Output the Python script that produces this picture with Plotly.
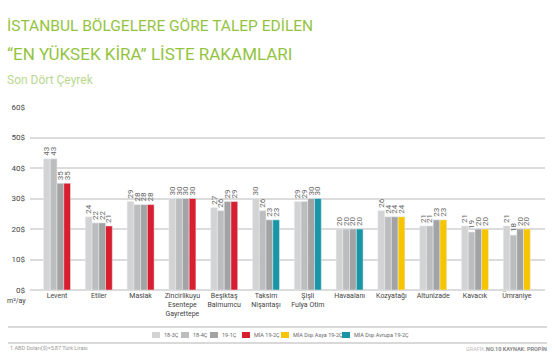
import plotly.graph_objects as go

categories = ["Levent", "Etiler", "Maslak", "Zincirlikuyu<br>Esentepe<br>Gayrettepe",
              "Beşiktaş<br>Balmumcu", "Taksim<br>Nişantaşı", "Şişli<br>Fulya Otim",
              "Havaalanı", "Kozyatağı", "Altunizade", "Kavacık", "Ümraniye"]
q18_3 = [43, 24, 29, 30, 27, 30, 29, 20, 26, 21, 21, 21]
q18_4 = [43, 22, 28, 30, 26, 26, 29, 20, 24, 21, 19, 18]
q19_1 = [35, 22, 28, 30, 29, 23, 30, 20, 24, 23, 20, 20]
q19_2 = [35, 21, 28, 30, 29, 23, 30, 20, 24, 23, 20, 20]
region_19_2 = ["MİA"] * 5 + ["Avrupa"] * 3 + ["Asya"] * 4
series_names = ["18-3Ç", "18-4Ç", "19-1Ç", "MİA 19-2Ç", "MİA Dışı Asya 19-2Ç", "MİA Dışı Avrupa 19-2Ç"]
y_ticks = [0, 10, 20, 30, 40, 50, 60]

W, H = 555, 355
ML, MR, MT, MB = 30, 10, 107, 65
PW, PH = W - ML - MR, H - MT - MB

def px2x(px):
    return (px - ML) / PW

def py2y(py):
    return (H - MB - py) / PH

FONT = "Roboto, sans-serif"
grays = ["#d3d3d3", "#bdbdbd", "#a3a3a3"]
c_mia, c_asya, c_avrupa = "#d71f30", "#f6c500", "#1996a5"

fig = go.Figure()
label_font = dict(family=FONT, size=8, color="#666666")
for vals, col, og in zip([q18_3, q18_4, q19_1], grays, ["a", "b", "c"]):
    fig.add_trace(go.Bar(x=categories, y=vals, marker_color=col, offsetgroup=og,
                         text=vals, textposition="outside", textangle=-90,
                         textfont=label_font, constraintext="none", cliponaxis=False,
                         showlegend=False))
for reg, col in [("MİA", c_mia), ("Asya", c_asya), ("Avrupa", c_avrupa)]:
    ys = [v if r == reg else None for v, r in zip(q19_2, region_19_2)]
    fig.add_trace(go.Bar(x=categories, y=ys, marker_color=col, offsetgroup="d",
                         text=[str(v) if v is not None else "" for v in ys],
                         textposition="outside", textangle=-90,
                         textfont=label_font, constraintext="none", cliponaxis=False,
                         showlegend=False))

fig.update_layout(
    width=W, height=H, margin=dict(l=ML, r=MR, t=MT, b=MB, autoexpand=False),
    paper_bgcolor="white", plot_bgcolor="white",
    barmode="group", bargap=0.354, bargroupgap=0,
    font=dict(family=FONT, color="#444444"),
)
fig.update_xaxes(range=[-0.646, 11.675], showgrid=False, showline=False, ticks="",
                 tickangle=0, automargin=False,
                 tickfont=dict(family=FONT, size=7, color="#444444"), fixedrange=True)
fig.update_yaxes(range=[0, 60], tickvals=y_ticks, ticktext=[f"{v}$" for v in y_ticks],
                 showgrid=True, gridcolor="#dcdcdc", gridwidth=1.5, automargin=False,
                 zeroline=True, zerolinecolor="#dcdcdc", zerolinewidth=1.5,
                 tickfont=dict(family=FONT, size=8, color="#444444"), ticklabelstandoff=4)

ann = []
shapes = []
title_green = "#94c43f"
ann.append(dict(text="İSTANBUL BÖLGELERE GÖRE TALEP EDİLEN", x=px2x(5), y=py2y(26),
                xref="paper", yref="paper", xanchor="left", yanchor="middle", showarrow=False,
                font=dict(family=FONT, size=15.5, color=title_green)))
ann.append(dict(text="“EN YÜKSEK KİRA” LİSTE RAKAMLARI", x=px2x(5), y=py2y(54),
                xref="paper", yref="paper", xanchor="left", yanchor="middle", showarrow=False,
                font=dict(family=FONT, size=17, color=title_green)))
ann.append(dict(text="Son Dört Çeyrek", x=px2x(5), y=py2y(80),
                xref="paper", yref="paper", xanchor="left", yanchor="middle", showarrow=False,
                font=dict(family=FONT, size=12, color="#b9d890")))
ann.append(dict(text="m²/ay", x=px2x(5), y=py2y(301),
                xref="paper", yref="paper", xanchor="left", yanchor="middle", showarrow=False,
                font=dict(family=FONT, size=7, color="#444444")))

for yy in [327, 343]:
    shapes.append(dict(type="line", xref="paper", yref="paper", x0=px2x(8), x1=px2x(547),
                       y0=py2y(yy), y1=py2y(yy), line=dict(color="#cccccc", width=1.5)))

leg_colors = grays + [c_mia, c_asya, c_avrupa]
leg_x = [152, 181, 210, 242, 281, 342]
for name, col, lx in zip(series_names, leg_colors, leg_x):
    shapes.append(dict(type="rect", xref="paper", yref="paper", x0=px2x(lx), x1=px2x(lx + 8),
                       y0=py2y(338), y1=py2y(332), fillcolor=col, line=dict(width=0)))
    ann.append(dict(text=name, x=px2x(lx + 9.5), y=py2y(335), xref="paper", yref="paper",
                    xanchor="left", yanchor="middle", showarrow=False,
                    font=dict(family=FONT, size=5.5, color="#666666")))

ann.append(dict(text="1 ABD Doları($)=5,87 Türk Lirası", x=px2x(8), y=py2y(348.5),
                xref="paper", yref="paper", xanchor="left", yanchor="middle", showarrow=False,
                font=dict(family=FONT, size=5.5, color="#999999")))
ann.append(dict(text="<span style='color:#bbbbbb'>GRAFİK </span><b>NO.10 KAYNAK: PROPİN</b>",
                x=px2x(549), y=py2y(348.5),
                xref="paper", yref="paper", xanchor="right", yanchor="middle", showarrow=False,
                font=dict(family=FONT, size=5.5, color="#888888")))

fig.update_layout(annotations=ann, shapes=shapes)
fig.write_html("out.html", config={"displayModeBar": False},
               post_script="document.body.style.margin='0';document.body.style.overflow='hidden';")
